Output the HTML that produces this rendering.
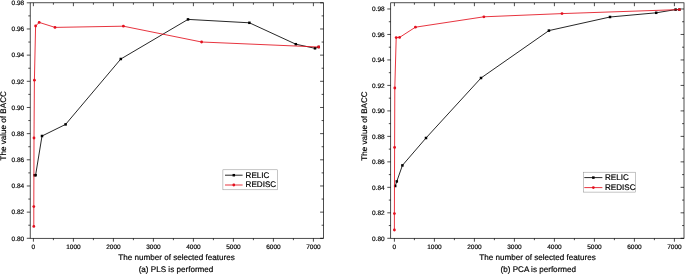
<!DOCTYPE html>
<html lang="en"><head><meta charset="utf-8"><title>BACC vs number of selected features</title>
<style>
html,body{margin:0;padding:0;background:#fff;}
body{width:685px;height:275px;overflow:hidden;}
svg{display:block;font-family:"Liberation Sans",Arial,Helvetica,sans-serif;}
text{stroke:#000;stroke-width:0.18px;text-rendering:geometricPrecision;}
</style></head><body>
<svg width="685" height="275" viewBox="0 0 685 275">
<rect width="685" height="275" fill="#fff"/>
<g>
<rect x="30.2" y="2.8" width="293.30" height="235.50" fill="none" stroke="#000" stroke-width="0.7"/>
<path d="M33.40 238.3v3.4 M33.40 2.8v3.4 M53.40 238.3v1.9 M53.40 2.8v1.9 M73.40 238.3v3.4 M73.40 2.8v3.4 M93.40 238.3v1.9 M93.40 2.8v1.9 M113.40 238.3v3.4 M113.40 2.8v3.4 M133.40 238.3v1.9 M133.40 2.8v1.9 M153.40 238.3v3.4 M153.40 2.8v3.4 M173.40 238.3v1.9 M173.40 2.8v1.9 M193.40 238.3v3.4 M193.40 2.8v3.4 M213.40 238.3v1.9 M213.40 2.8v1.9 M233.40 238.3v3.4 M233.40 2.8v3.4 M253.40 238.3v1.9 M253.40 2.8v1.9 M273.40 238.3v3.4 M273.40 2.8v3.4 M293.40 238.3v1.9 M293.40 2.8v1.9 M313.40 238.3v3.4 M313.40 2.8v3.4 M30.2 238.30h-3.4 M323.5 238.30h-3.4 M30.2 225.22h-1.9 M323.5 225.22h-1.9 M30.2 212.13h-3.4 M323.5 212.13h-3.4 M30.2 199.05h-1.9 M323.5 199.05h-1.9 M30.2 185.97h-3.4 M323.5 185.97h-3.4 M30.2 172.88h-1.9 M323.5 172.88h-1.9 M30.2 159.80h-3.4 M323.5 159.80h-3.4 M30.2 146.72h-1.9 M323.5 146.72h-1.9 M30.2 133.64h-3.4 M323.5 133.64h-3.4 M30.2 120.55h-1.9 M323.5 120.55h-1.9 M30.2 107.47h-3.4 M323.5 107.47h-3.4 M30.2 94.39h-1.9 M323.5 94.39h-1.9 M30.2 81.30h-3.4 M323.5 81.30h-3.4 M30.2 68.22h-1.9 M323.5 68.22h-1.9 M30.2 55.14h-3.4 M323.5 55.14h-3.4 M30.2 42.05h-1.9 M323.5 42.05h-1.9 M30.2 28.97h-3.4 M323.5 28.97h-3.4 M30.2 15.89h-1.9 M323.5 15.89h-1.9 M30.2 2.81h-3.4 M323.5 2.81h-3.4" stroke="#000" stroke-width="0.7" fill="none"/>
<g font-size="6.5" fill="#000" text-anchor="middle">
<text x="33.40" y="248.90">0</text>
<text x="73.40" y="248.90">1000</text>
<text x="113.40" y="248.90">2000</text>
<text x="153.40" y="248.90">3000</text>
<text x="193.40" y="248.90">4000</text>
<text x="233.40" y="248.90">5000</text>
<text x="273.40" y="248.90">6000</text>
<text x="313.40" y="248.90">7000</text>
</g>
<g font-size="6.5" fill="#000" text-anchor="end">
<text x="24.20" y="240.60">0.80</text>
<text x="24.20" y="214.43">0.82</text>
<text x="24.20" y="188.27">0.84</text>
<text x="24.20" y="162.10">0.86</text>
<text x="24.20" y="135.94">0.88</text>
<text x="24.20" y="109.77">0.90</text>
<text x="24.20" y="83.60">0.92</text>
<text x="24.20" y="57.44">0.94</text>
<text x="24.20" y="31.27">0.96</text>
<text x="24.20" y="5.11">0.98</text>
</g>
<text x="176.60" y="260.3" font-size="8.1" text-anchor="middle">The number of selected features</text>
<text x="176.00" y="271.7" font-size="8.1" text-anchor="middle">(a) PLS is performed</text>
<text transform="translate(6.2 125.8) rotate(-90)" font-size="8.1" text-anchor="middle">The value of BACC</text>
<path d="M34.6 175.2 L35.6 175.2 L42 136 L65.6 124.4 L120.8 59 L188 19.4 L249.4 22.8 L295.8 44.2 L315 48.3 L318.7 47" fill="none" stroke="#000" stroke-width="0.85" stroke-linejoin="round"/>
<rect x="33.35" y="173.95" width="2.5" height="2.5" fill="#000"/>
<rect x="34.35" y="173.95" width="2.5" height="2.5" fill="#000"/>
<rect x="40.75" y="134.75" width="2.5" height="2.5" fill="#000"/>
<rect x="64.35" y="123.15" width="2.5" height="2.5" fill="#000"/>
<rect x="119.55" y="57.75" width="2.5" height="2.5" fill="#000"/>
<rect x="186.75" y="18.15" width="2.5" height="2.5" fill="#000"/>
<rect x="248.15" y="21.55" width="2.5" height="2.5" fill="#000"/>
<rect x="294.55" y="42.95" width="2.5" height="2.5" fill="#000"/>
<rect x="313.75" y="47.05" width="2.5" height="2.5" fill="#000"/>
<rect x="317.45" y="45.75" width="2.5" height="2.5" fill="#000"/>
<path d="M33.8 226.4 L33.8 206.6 L34 138 L34.4 80.2 L35.6 26 L39.2 22.4 L55 27.4 L123.4 26.2 L201.6 42 L318.7 47" fill="none" stroke="#e3101e" stroke-width="0.85" stroke-linejoin="round"/>
<circle cx="33.8" cy="226.4" r="1.4" fill="#e3101e"/>
<circle cx="33.8" cy="206.6" r="1.4" fill="#e3101e"/>
<circle cx="34" cy="138" r="1.4" fill="#e3101e"/>
<circle cx="34.4" cy="80.2" r="1.4" fill="#e3101e"/>
<circle cx="35.6" cy="26" r="1.4" fill="#e3101e"/>
<circle cx="39.2" cy="22.4" r="1.4" fill="#e3101e"/>
<circle cx="55" cy="27.4" r="1.4" fill="#e3101e"/>
<circle cx="123.4" cy="26.2" r="1.4" fill="#e3101e"/>
<circle cx="201.6" cy="42" r="1.4" fill="#e3101e"/>
<circle cx="318.7" cy="47" r="1.4" fill="#e3101e"/>
<rect x="222.9" y="169.8" width="54.5" height="20.0" fill="#fff" stroke="#8a8a8a" stroke-width="0.5"/>
<path d="M225 175.2H242.6" stroke="#000" stroke-width="0.85"/>
<rect x="232.55" y="173.95" width="2.5" height="2.5" fill="#000"/>
<text x="245.6" y="177.65" font-size="8.1">RELIC</text>
<path d="M225 185.0H242.6" stroke="#e3101e" stroke-width="0.85"/>
<circle cx="233.80" cy="185.0" r="1.4" fill="#e3101e"/>
<text x="245.6" y="187.45" font-size="8.1">REDISC</text>
</g>
<g>
<rect x="390.7" y="2.8" width="293.30" height="235.50" fill="none" stroke="#000" stroke-width="0.7"/>
<path d="M394.40 238.3v3.4 M394.40 2.8v3.4 M414.40 238.3v1.9 M414.40 2.8v1.9 M434.40 238.3v3.4 M434.40 2.8v3.4 M454.40 238.3v1.9 M454.40 2.8v1.9 M474.40 238.3v3.4 M474.40 2.8v3.4 M494.40 238.3v1.9 M494.40 2.8v1.9 M514.40 238.3v3.4 M514.40 2.8v3.4 M534.40 238.3v1.9 M534.40 2.8v1.9 M554.40 238.3v3.4 M554.40 2.8v3.4 M574.40 238.3v1.9 M574.40 2.8v1.9 M594.40 238.3v3.4 M594.40 2.8v3.4 M614.40 238.3v1.9 M614.40 2.8v1.9 M634.40 238.3v3.4 M634.40 2.8v3.4 M654.40 238.3v1.9 M654.40 2.8v1.9 M674.40 238.3v3.4 M674.40 2.8v3.4 M390.7 238.30h-3.4 M684 238.30h-3.4 M390.7 225.56h-1.9 M684 225.56h-1.9 M390.7 212.82h-3.4 M684 212.82h-3.4 M390.7 200.08h-1.9 M684 200.08h-1.9 M390.7 187.34h-3.4 M684 187.34h-3.4 M390.7 174.60h-1.9 M684 174.60h-1.9 M390.7 161.86h-3.4 M684 161.86h-3.4 M390.7 149.12h-1.9 M684 149.12h-1.9 M390.7 136.38h-3.4 M684 136.38h-3.4 M390.7 123.64h-1.9 M684 123.64h-1.9 M390.7 110.90h-3.4 M684 110.90h-3.4 M390.7 98.16h-1.9 M684 98.16h-1.9 M390.7 85.42h-3.4 M684 85.42h-3.4 M390.7 72.68h-1.9 M684 72.68h-1.9 M390.7 59.94h-3.4 M684 59.94h-3.4 M390.7 47.20h-1.9 M684 47.20h-1.9 M390.7 34.46h-3.4 M684 34.46h-3.4 M390.7 21.72h-1.9 M684 21.72h-1.9 M390.7 8.98h-3.4 M684 8.98h-3.4" stroke="#000" stroke-width="0.7" fill="none"/>
<g font-size="6.5" fill="#000" text-anchor="middle">
<text x="394.40" y="248.90">0</text>
<text x="434.40" y="248.90">1000</text>
<text x="474.40" y="248.90">2000</text>
<text x="514.40" y="248.90">3000</text>
<text x="554.40" y="248.90">4000</text>
<text x="594.40" y="248.90">5000</text>
<text x="634.40" y="248.90">6000</text>
<text x="674.40" y="248.90">7000</text>
</g>
<g font-size="6.5" fill="#000" text-anchor="end">
<text x="384.70" y="240.60">0.80</text>
<text x="384.70" y="215.12">0.82</text>
<text x="384.70" y="189.64">0.84</text>
<text x="384.70" y="164.16">0.86</text>
<text x="384.70" y="138.68">0.88</text>
<text x="384.70" y="113.20">0.90</text>
<text x="384.70" y="87.72">0.92</text>
<text x="384.70" y="62.24">0.94</text>
<text x="384.70" y="36.76">0.96</text>
<text x="384.70" y="11.28">0.98</text>
</g>
<text x="537.60" y="260.3" font-size="8.1" text-anchor="middle">The number of selected features</text>
<text x="538.30" y="271.7" font-size="8.1" text-anchor="middle">(b) PCA is performed</text>
<text transform="translate(366.5 126) rotate(-90)" font-size="8.1" text-anchor="middle">The value of BACC</text>
<path d="M395.2 186 L396.8 181.4 L402.4 165.4 L426 138 L481 78 L548.9 30.6 L610 17 L656.2 12.8 L675.6 9.6 L679.4 9.6" fill="none" stroke="#000" stroke-width="0.85" stroke-linejoin="round"/>
<rect x="393.95" y="184.75" width="2.5" height="2.5" fill="#000"/>
<rect x="395.55" y="180.15" width="2.5" height="2.5" fill="#000"/>
<rect x="401.15" y="164.15" width="2.5" height="2.5" fill="#000"/>
<rect x="424.75" y="136.75" width="2.5" height="2.5" fill="#000"/>
<rect x="479.75" y="76.75" width="2.5" height="2.5" fill="#000"/>
<rect x="547.65" y="29.35" width="2.5" height="2.5" fill="#000"/>
<rect x="608.75" y="15.75" width="2.5" height="2.5" fill="#000"/>
<rect x="654.95" y="11.55" width="2.5" height="2.5" fill="#000"/>
<rect x="674.35" y="8.35" width="2.5" height="2.5" fill="#000"/>
<rect x="678.15" y="8.35" width="2.5" height="2.5" fill="#000"/>
<path d="M394.4 230 L394.4 213.6 L394.6 147.4 L394.8 88 L396.2 37.6 L399.6 37.4 L415.4 27.2 L483.9 16.8 L562 13.6 L679.4 9.6" fill="none" stroke="#e3101e" stroke-width="0.85" stroke-linejoin="round"/>
<circle cx="394.4" cy="230" r="1.4" fill="#e3101e"/>
<circle cx="394.4" cy="213.6" r="1.4" fill="#e3101e"/>
<circle cx="394.6" cy="147.4" r="1.4" fill="#e3101e"/>
<circle cx="394.8" cy="88" r="1.4" fill="#e3101e"/>
<circle cx="396.2" cy="37.6" r="1.4" fill="#e3101e"/>
<circle cx="399.6" cy="37.4" r="1.4" fill="#e3101e"/>
<circle cx="415.4" cy="27.2" r="1.4" fill="#e3101e"/>
<circle cx="483.9" cy="16.8" r="1.4" fill="#e3101e"/>
<circle cx="562" cy="13.6" r="1.4" fill="#e3101e"/>
<circle cx="679.4" cy="9.6" r="1.4" fill="#e3101e"/>
<rect x="583.4" y="172.2" width="52.2" height="19.9" fill="#fff" stroke="#8a8a8a" stroke-width="0.5"/>
<path d="M584.3 177.6H602.4" stroke="#000" stroke-width="0.85"/>
<rect x="592.10" y="176.35" width="2.5" height="2.5" fill="#000"/>
<text x="605" y="180.05" font-size="8.1">RELIC</text>
<path d="M584.3 187.6H602.4" stroke="#e3101e" stroke-width="0.85"/>
<circle cx="593.35" cy="187.6" r="1.4" fill="#e3101e"/>
<text x="605" y="190.05" font-size="8.1">REDISC</text>
</g>
</svg>
</body></html>
